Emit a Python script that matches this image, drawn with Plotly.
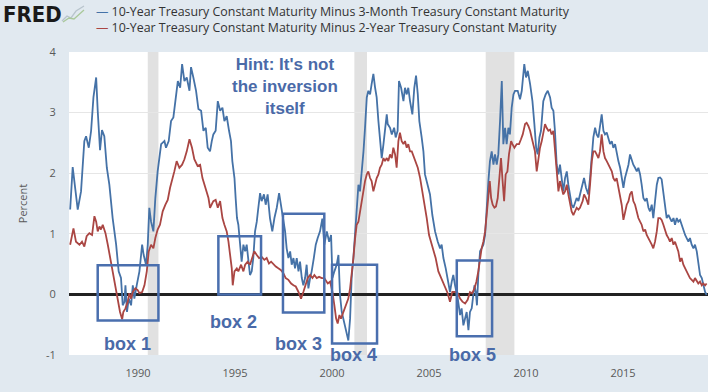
import plotly.graph_objects as go

# ---------------- data ----------------
years_10y3m = [
    1986.50, 1986.63, 1986.89, 1987.06, 1987.23, 1987.32, 1987.46, 1987.58, 1987.70, 1987.84,
    1987.92, 1988.04, 1988.14, 1988.26, 1988.39, 1988.52, 1988.69, 1988.87, 1989.00, 1989.12,
    1989.21, 1989.30, 1989.35, 1989.43, 1989.52, 1989.64, 1989.73, 1989.81, 1989.93, 1990.07,
    1990.21, 1990.29, 1990.41, 1990.50, 1990.58, 1990.67, 1990.79, 1990.89, 1991.01, 1991.19,
    1991.36, 1991.44, 1991.58, 1991.70, 1991.82, 1991.93, 1992.05, 1992.17, 1992.27, 1992.39,
    1992.51, 1992.65, 1992.73, 1992.85, 1992.99, 1993.11, 1993.25, 1993.37, 1993.49, 1993.59,
    1993.71, 1993.80, 1993.88, 1994.00, 1994.11, 1994.23, 1994.35, 1994.45, 1994.57, 1994.69,
    1994.79, 1994.86, 1994.97, 1995.03, 1995.10, 1995.17, 1995.26, 1995.34, 1995.43, 1995.52,
    1995.60, 1995.69, 1995.77, 1995.86, 1995.94, 1996.03, 1996.12, 1996.20, 1996.29, 1996.37,
    1996.49, 1996.58, 1996.68, 1996.80, 1996.92, 1997.03, 1997.15, 1997.27, 1997.37, 1997.49,
    1997.58, 1997.66, 1997.75, 1997.84, 1997.92, 1998.01, 1998.09, 1998.18, 1998.27, 1998.35,
    1998.44, 1998.52, 1998.61, 1998.69, 1998.78, 1998.87, 1998.95, 1999.06, 1999.16, 1999.26,
    1999.38, 1999.50, 1999.60, 1999.73, 1999.85, 1999.95, 2000.02, 2000.12, 2000.24, 2000.33,
    2000.41, 2000.50, 2000.58, 2000.67, 2000.76, 2000.84, 2000.93, 2001.01, 2001.10, 2001.19,
    2001.27, 2001.36, 2001.44, 2001.53, 2001.62, 2001.70, 2001.79, 2001.87, 2001.96, 2002.04,
    2002.13, 2002.22, 2002.30, 2002.39, 2002.47, 2002.56, 2002.65, 2002.73, 2002.82, 2002.87,
    2002.99, 2003.08, 2003.20, 2003.28, 2003.38, 2003.45, 2003.56, 2003.68, 2003.76, 2003.85,
    2003.93, 2004.02, 2004.14, 2004.24, 2004.33, 2004.42, 2004.50, 2004.62, 2004.71, 2004.79,
    2004.93, 2005.05, 2005.17, 2005.31, 2005.45, 2005.57, 2005.65, 2005.74, 2005.86, 2005.96,
    2006.08, 2006.17, 2006.25, 2006.34, 2006.48, 2006.60, 2006.68, 2006.77, 2006.86, 2006.94,
    2007.03, 2007.11, 2007.20, 2007.29, 2007.34, 2007.41, 2007.47, 2007.54, 2007.63, 2007.71,
    2007.80, 2007.89, 2007.97, 2008.06, 2008.14, 2008.23, 2008.32, 2008.40, 2008.49, 2008.57,
    2008.66, 2008.75, 2008.83, 2008.92, 2009.00, 2009.09, 2009.17, 2009.26, 2009.35, 2009.43,
    2009.57, 2009.69, 2009.78, 2009.86, 2009.91, 2010.00, 2010.09, 2010.21, 2010.33, 2010.43,
    2010.52, 2010.60, 2010.69, 2010.77, 2010.89, 2011.01, 2011.12, 2011.24, 2011.32, 2011.41,
    2011.49, 2011.58, 2011.67, 2011.75, 2011.84, 2011.92, 2012.01, 2012.10, 2012.18, 2012.27,
    2012.35, 2012.44, 2012.53, 2012.61, 2012.70, 2012.78, 2012.92, 2012.99, 2013.09, 2013.21,
    2013.30, 2013.39, 2013.47, 2013.56, 2013.64, 2013.73, 2013.81, 2013.90, 2013.99, 2014.07,
    2014.16, 2014.24, 2014.33, 2014.42, 2014.50, 2014.59, 2014.67, 2014.76, 2014.85, 2014.93,
    2015.02, 2015.10, 2015.19, 2015.28, 2015.36, 2015.45, 2015.53, 2015.62, 2015.71, 2015.79,
    2015.88, 2015.96, 2016.05, 2016.14, 2016.22, 2016.31, 2016.39, 2016.48, 2016.56, 2016.65,
    2016.74, 2016.82, 2016.91, 2016.99, 2017.08, 2017.17, 2017.25, 2017.34, 2017.42, 2017.51,
    2017.60, 2017.68, 2017.77, 2017.85, 2017.94, 2018.02, 2018.11, 2018.20, 2018.28, 2018.37,
    2018.45, 2018.54, 2018.63, 2018.71, 2018.80, 2018.88, 2018.97, 2019.06, 2019.14, 2019.23,
    2019.31,
]
spread_10y3m = [
    1.40, 2.10, 1.40, 1.70, 2.53, 2.61, 2.42, 2.70, 3.25, 3.58,
    3.03, 2.38, 2.71, 2.61, 2.09, 1.81, 1.26, 0.82, 0.38, 0.27,
    -0.18, -0.12, 0.15, -0.29, -0.07, -0.18, 0.15, -0.07, 0.15, 0.38,
    0.82, 0.65, 0.49, 0.82, 1.43, 1.20, 1.04, 1.59, 2.03, 2.48,
    2.53, 2.42, 2.53, 2.86, 2.92, 3.25, 3.52, 3.41, 3.80, 3.52,
    3.58, 3.36, 3.75, 3.58, 3.36, 3.06, 3.03, 2.70, 2.75, 2.42,
    2.36, 2.53, 2.64, 2.70, 3.19, 3.03, 3.08, 2.86, 2.94, 2.70,
    2.53, 2.20, 1.92, 1.59, 1.26, 1.15, 0.82, 0.54, 0.82, 0.71,
    0.82, 0.49, 0.32, 0.38, 0.60, 1.04, 1.20, 1.43, 1.67, 1.54,
    1.65, 1.48, 1.65, 1.26, 1.04, 1.26, 1.43, 1.67, 1.48, 1.26,
    1.04, 0.76, 0.60, 0.71, 0.49, 0.60, 0.43, 0.60, 0.38, 0.54,
    0.27, 0.15, 0.27, 0.49, 0.10, 0.27, 0.38, 0.60, 0.82, 0.93,
    1.04, 1.25, 0.82, 1.04, 0.87, 0.98, 0.27, 0.38, 0.49, 0.65,
    -0.01, -0.29, -0.40, -0.56, -0.67, -0.76, -0.40, 0.27, 0.60, 1.04,
    1.54, 1.81, 1.70, 1.98, 2.36, 2.75, 3.25, 3.36, 3.30, 3.47,
    3.64, 3.41, 3.25, 2.86, 2.53, 2.25, 2.48, 2.70, 2.97, 2.81,
    2.75, 2.64, 2.75, 2.59, 2.70, 3.52, 3.41, 3.19, 3.41, 3.30,
    3.41, 3.19, 2.97, 3.41, 3.61, 3.30, 2.86, 2.59, 2.36, 1.98,
    1.81, 1.65, 1.31, 1.04, 0.87, 0.76, 0.82, 0.60, 0.43, 0.27,
    0.04, 0.21, 0.32, 0.15, -0.07, -0.34, -0.23, -0.51, -0.40, -0.29,
    -0.59, -0.29, -0.23, -0.01, 0.15, 0.04, -0.18, 0.32, 0.71, 0.76,
    0.82, 0.98, 1.48, 1.87, 2.20, 2.36, 2.14, 2.31, 2.14, 2.31,
    2.86, 3.52, 2.48, 2.75, 2.48, 2.75, 2.64, 3.08, 3.30, 3.36,
    3.36, 3.22, 3.36, 3.64, 3.80, 3.58, 3.69, 3.47, 3.19, 2.81,
    2.42, 2.31, 2.59, 2.70, 3.19, 3.30, 3.36, 3.25, 3.08, 3.03,
    2.70, 2.14, 1.98, 2.14, 1.92, 1.70, 1.92, 2.03, 1.81, 1.59,
    1.48, 1.43, 1.54, 1.59, 1.54, 1.65, 1.81, 1.92, 1.76, 1.65,
    1.92, 2.36, 2.59, 2.75, 2.64, 2.59, 2.75, 2.97, 2.70, 2.64,
    2.67, 2.59, 2.48, 2.53, 2.42, 2.48, 2.31, 2.20, 2.09, 1.92,
    1.76, 1.92, 2.03, 2.14, 2.31, 2.20, 2.14, 2.09, 2.03, 2.09,
    1.98, 1.81, 1.59, 1.54, 1.59, 1.43, 1.37, 1.48, 1.26, 1.54,
    1.81, 1.92, 1.93, 1.90, 1.70, 1.48, 1.26, 1.31, 1.26, 1.20,
    1.26, 1.15, 1.26, 1.20, 1.23, 1.15, 1.04, 0.98, 0.93, 0.87,
    0.93, 0.82, 0.76, 0.82, 0.71, 0.49, 0.32, 0.27, 0.15, 0.04,
    -0.01,
]

years_10y2y = [
    1986.50, 1986.67, 1986.80, 1986.98, 1987.11, 1987.23, 1987.35, 1987.49, 1987.63, 1987.75,
    1987.84, 1987.92, 1988.01, 1988.09, 1988.18, 1988.32, 1988.44, 1988.56, 1988.69, 1988.83,
    1988.95, 1989.07, 1989.18, 1989.24, 1989.35, 1989.47, 1989.55, 1989.64, 1989.73, 1989.86,
    1989.98, 1990.07, 1990.21, 1990.33, 1990.45, 1990.55, 1990.67, 1990.79, 1990.89, 1991.01,
    1991.13, 1991.27, 1991.41, 1991.53, 1991.65, 1991.79, 1991.87, 1991.99, 1992.13, 1992.27,
    1992.39, 1992.51, 1992.65, 1992.78, 1992.90, 1993.07, 1993.20, 1993.32, 1993.42, 1993.54,
    1993.63, 1993.71, 1993.80, 1993.88, 1994.00, 1994.11, 1994.23, 1994.35, 1994.45, 1994.57,
    1994.66, 1994.74, 1994.83, 1994.88, 1994.97, 1995.09, 1995.17, 1995.31, 1995.43, 1995.52,
    1995.65, 1995.77, 1995.89, 1995.99, 1996.12, 1996.24, 1996.37, 1996.51, 1996.63, 1996.75,
    1996.86, 1996.98, 1997.10, 1997.23, 1997.37, 1997.49, 1997.61, 1997.75, 1997.89, 1998.01,
    1998.13, 1998.27, 1998.40, 1998.52, 1998.64, 1998.75, 1998.87, 1998.99, 1999.09, 1999.21,
    1999.33, 1999.47, 1999.60, 1999.78, 1999.90, 2000.02, 2000.12, 2000.21, 2000.29, 2000.38,
    2000.46, 2000.58, 2000.67, 2000.76, 2000.84, 2000.93, 2001.01, 2001.10, 2001.19, 2001.27,
    2001.36, 2001.44, 2001.53, 2001.62, 2001.70, 2001.79, 2001.87, 2001.96, 2002.04, 2002.13,
    2002.22, 2002.30, 2002.39, 2002.47, 2002.56, 2002.65, 2002.73, 2002.82, 2002.90, 2002.99,
    2003.08, 2003.16, 2003.25, 2003.33, 2003.42, 2003.50, 2003.59, 2003.68, 2003.76, 2003.85,
    2003.93, 2004.02, 2004.11, 2004.19, 2004.28, 2004.42, 2004.54, 2004.66, 2004.76, 2004.88,
    2005.00, 2005.10, 2005.22, 2005.34, 2005.48, 2005.62, 2005.74, 2005.86, 2005.96, 2006.08,
    2006.20, 2006.34, 2006.48, 2006.60, 2006.72, 2006.86, 2006.99, 2007.11, 2007.23, 2007.34,
    2007.44, 2007.54, 2007.63, 2007.71, 2007.80, 2007.89, 2007.97, 2008.06, 2008.13, 2008.20,
    2008.28, 2008.37, 2008.45, 2008.54, 2008.61, 2008.71, 2008.78, 2008.87, 2008.95, 2009.04,
    2009.12, 2009.23, 2009.30, 2009.40, 2009.52, 2009.64, 2009.74, 2009.83, 2009.95, 2010.03,
    2010.12, 2010.21, 2010.29, 2010.38, 2010.46, 2010.55, 2010.64, 2010.72, 2010.81, 2010.89,
    2010.98, 2011.06, 2011.15, 2011.24, 2011.32, 2011.41, 2011.49, 2011.58, 2011.67, 2011.75,
    2011.84, 2011.92, 2012.01, 2012.10, 2012.18, 2012.27, 2012.35, 2012.44, 2012.53, 2012.61,
    2012.70, 2012.78, 2012.92, 2012.99, 2013.09, 2013.21, 2013.30, 2013.39, 2013.47, 2013.56,
    2013.64, 2013.73, 2013.81, 2013.90, 2013.99, 2014.07, 2014.16, 2014.24, 2014.33, 2014.42,
    2014.50, 2014.59, 2014.67, 2014.76, 2014.85, 2014.93, 2015.02, 2015.10, 2015.19, 2015.28,
    2015.36, 2015.45, 2015.53, 2015.62, 2015.71, 2015.79, 2015.88, 2015.96, 2016.05, 2016.14,
    2016.22, 2016.31, 2016.39, 2016.48, 2016.56, 2016.65, 2016.74, 2016.82, 2016.91, 2016.99,
    2017.08, 2017.17, 2017.25, 2017.34, 2017.42, 2017.51, 2017.60, 2017.68, 2017.77, 2017.85,
    2017.94, 2018.02, 2018.11, 2018.20, 2018.28, 2018.37, 2018.45, 2018.54, 2018.63, 2018.71,
    2018.80, 2018.88, 2018.97, 2019.06, 2019.14, 2019.23, 2019.31,
]
spread_10y2y = [
    0.82, 1.09, 0.87, 0.82, 0.87, 0.79, 0.96, 1.01, 0.98, 1.29,
    1.20, 1.04, 1.12, 1.07, 1.15, 1.01, 0.82, 0.60, 0.38, 0.15,
    -0.07, -0.29, -0.41, -0.29, -0.23, -0.12, 0.02, -0.07, 0.04, 0.10,
    0.07, 0.02, 0.04, 0.15, 0.38, 0.71, 0.82, 0.76, 0.93, 1.07,
    1.15, 1.37, 1.48, 1.56, 1.76, 1.92, 2.03, 2.20, 2.09, 2.14,
    2.23, 2.36, 2.56, 2.42, 2.23, 2.12, 2.14, 1.92, 1.81, 1.70,
    1.59, 1.43, 1.48, 1.54, 1.56, 1.43, 1.54, 1.26, 1.15, 1.04,
    0.87, 0.65, 0.43, 0.15, 0.38, 0.43, 0.38, 0.49, 0.38, 0.49,
    0.54, 0.49, 0.60, 0.71, 0.65, 0.60, 0.62, 0.57, 0.60, 0.51,
    0.54, 0.49, 0.46, 0.43, 0.40, 0.35, 0.27, 0.24, 0.18, 0.15,
    0.13, 0.04, -0.07, 0.04, 0.15, 0.27, 0.32, 0.27, 0.32, 0.27,
    0.29, 0.27, 0.27, 0.18, 0.21, 0.04, -0.18, -0.40, -0.48, -0.34,
    -0.40, -0.29, -0.23, -0.12, -0.07, 0.10, 0.32, 0.60, 0.93, 1.15,
    1.20, 1.37, 1.54, 1.70, 1.87, 1.98, 2.03, 1.92, 1.87, 1.70,
    1.81, 1.92, 1.98, 2.09, 2.14, 2.25, 2.20, 2.25, 2.20, 2.31,
    2.25, 2.42, 2.31, 2.09, 2.53, 2.67, 2.53, 2.48, 2.53, 2.42,
    2.48, 2.36, 2.36, 2.28, 2.23, 2.09, 1.92, 1.70, 1.48, 1.26,
    0.98, 0.87, 0.71, 0.60, 0.38, 0.27, 0.18, 0.10, 0.02, -0.12,
    0.04, 0.04, 0.02, -0.07, -0.12, -0.15, -0.09, 0.04, 0.02, 0.10,
    0.21, 0.38, 0.60, 0.76, 0.87, 1.04, 1.31, 1.70, 1.87, 1.59,
    1.48, 1.43, 1.45, 1.59, 1.92, 2.25, 1.92, 1.54, 1.98, 2.03,
    2.31, 2.53, 2.48, 2.42, 2.48, 2.48, 2.56, 2.64, 2.81, 2.83,
    2.78, 2.70, 2.59, 2.48, 2.36, 2.03, 2.25, 2.42, 2.53, 2.70,
    2.81, 2.75, 2.70, 2.72, 2.64, 2.70, 2.36, 1.98, 1.70, 1.87,
    1.76, 1.65, 1.70, 1.81, 1.65, 1.48, 1.37, 1.31, 1.37, 1.43,
    1.40, 1.43, 1.54, 1.65, 1.59, 1.48, 1.81, 2.20, 2.36, 2.36,
    2.31, 2.25, 2.36, 2.64, 2.36, 2.25, 2.20, 2.14, 2.09, 2.03,
    1.92, 1.87, 1.92, 1.76, 1.65, 1.48, 1.23, 1.37, 1.48, 1.54,
    1.65, 1.70, 1.54, 1.48, 1.37, 1.26, 1.20, 1.15, 1.04, 1.07,
    0.98, 0.93, 0.87, 0.82, 0.76, 0.87, 1.04, 1.26, 1.26, 1.23,
    1.15, 1.04, 0.98, 0.93, 0.87, 0.93, 0.82, 0.87, 0.76, 0.71,
    0.54, 0.60, 0.49, 0.43, 0.38, 0.32, 0.27, 0.24, 0.21, 0.27,
    0.21, 0.18, 0.21, 0.15, 0.18, 0.15, 0.18,
]

series_names = [
    "10-Year Treasury Constant Maturity Minus 3-Month Treasury Constant Maturity",
    "10-Year Treasury Constant Maturity Minus 2-Year Treasury Constant Maturity",
]

# recessions (start, end) in years
recession_start = [1990.50, 2001.15, 2007.92]
recession_end = [1991.05, 2001.80, 2009.40]

# annotation boxes (years / percent)
box_x0 = [1987.92, 1994.14, 1997.47, 2000.00, 2006.43]
box_x1 = [1991.05, 1996.34, 1999.60, 2002.32, 2008.25]
box_y0 = [-0.43, 0.00, -0.30, -0.81, -0.69]
box_y1 = [0.48, 0.96, 1.33, 0.49, 0.56]
box_labels = ["box 1", "box 2", "box 3", "box 4", "box 5"]
box_label_x = [1989.45, 1994.90, 1998.27, 2001.08, 2007.24]
box_label_y = [-0.82, -0.45, -0.82, -1.00, -1.00]

x_ticks = [1990, 1995, 2000, 2005, 2010, 2015]
y_ticks = [-1, 0, 1, 2, 3, 4]

# ---------------- styling ----------------
W, H = 708, 392
ML, MR, MT, MB = 69, 0, 52, 37
PW, PH = W - ML - MR, H - MT - MB
Y_MIN, Y_MAX = -1, 4
BLUE = "#4572a7"
RED = "#aa4643"
NOTE = "#4a6aa8"
BG = "#e1e9f0"


def px(x):
    return (x - ML) / PW


def py(y):
    return (H - MB - y) / PH


def yv(v):
    return (v - Y_MIN) / (Y_MAX - Y_MIN)


fig = go.Figure()
fig.add_trace(go.Scatter(x=years_10y3m, y=spread_10y3m, mode="lines", name=series_names[0],
                         line=dict(color=BLUE, width=1.8), showlegend=False))
fig.add_trace(go.Scatter(x=years_10y2y, y=spread_10y2y, mode="lines", name=series_names[1],
                         line=dict(color=RED, width=1.8), showlegend=False))

shapes = []
for s, e in zip(recession_start, recession_end):
    shapes.append(dict(type="rect", xref="x", yref="paper", x0=s, x1=e, y0=0, y1=1,
                       fillcolor="#e1e1e1", line=dict(width=0), layer="below"))
for x0, x1, y0, y1 in zip(box_x0, box_x1, box_y0, box_y1):
    shapes.append(dict(type="rect", xref="x", yref="y", x0=x0, x1=x1, y0=y0, y1=y1,
                       line=dict(color="#4a6fae", width=2.5), fillcolor="rgba(0,0,0,0)",
                       layer="above"))

# small FRED chart icon
icon_gray = "M {} {} L {} {} L {} {} L {} {} L {} {}".format(
    px(62), py(21), px(67), py(16), px(71), py(18), px(76), py(11), px(84), py(6))
icon_green = "M {} {} L {} {} L {} {} L {} {}".format(
    px(63), py(22), px(69), py(18), px(74), py(19), px(84), py(10))
shapes.append(dict(type="path", xref="paper", yref="paper", path=icon_gray,
                   line=dict(color="#b8c4cc", width=1.3)))
shapes.append(dict(type="path", xref="paper", yref="paper", path=icon_green,
                   line=dict(color="#a9c89a", width=1.3)))

annotations = [
    dict(text="<b>FRED</b>", x=px(1), y=py(14), xref="paper", yref="paper",
         xanchor="left", yanchor="middle", showarrow=False,
         font=dict(family="DejaVu Sans Condensed, DejaVu Sans", size=22, color="#1a1a1a")),
    dict(text=f"<span style='color:{BLUE}'>—</span> " + series_names[0],
         x=px(94), y=py(12), xref="paper", yref="paper", xanchor="left", yanchor="middle",
         showarrow=False, font=dict(family="Open Sans", size=12.4, color="#333333")),
    dict(text=f"<span style='color:{RED}'>—</span> " + series_names[1],
         x=px(94), y=py(28), xref="paper", yref="paper", xanchor="left", yanchor="middle",
         showarrow=False, font=dict(family="Open Sans", size=12.4, color="#333333")),
    dict(text="<b>Hint: It's not<br>the inversion<br>itself</b>", x=1997.58, y=3.43,
         xref="x", yref="y", showarrow=False, align="center", yanchor="middle",
         font=dict(family="Liberation Sans", size=17, color=NOTE)),
]
for lab, lx, ly in zip(box_labels, box_label_x, box_label_y):
    annotations.append(dict(text=f"<b>{lab}</b>", x=lx, y=yv(ly), xref="x", yref="paper",
                            showarrow=False, xanchor="center", yanchor="middle",
                            font=dict(family="Liberation Sans", size=18, color=NOTE)))

fig.update_layout(
    width=W, height=H,
    margin=dict(l=ML, r=MR, t=MT, b=MB, pad=0),
    paper_bgcolor=BG, plot_bgcolor="white",
    font=dict(family="Open Sans", size=11, color="#595959"),
    shapes=shapes, annotations=annotations, showlegend=False,
)
fig.update_xaxes(range=[1986.44, 2019.38], tickvals=x_ticks,
                 ticktext=[str(t) for t in x_ticks], showgrid=False, zeroline=False,
                 ticks="outside", ticklen=8, tickcolor="rgba(0,0,0,0)",
                 tickfont=dict(size=11, color="#595959"), showline=False, fixedrange=True)
fig.update_yaxes(range=[Y_MIN, Y_MAX], tickvals=y_ticks, ticktext=[str(t) for t in y_ticks],
                 showgrid=True, gridcolor="#e6e6e6", gridwidth=1,
                 zeroline=True, zerolinecolor="#222222", zerolinewidth=2.5,
                 ticks="outside", ticklen=10, tickcolor="rgba(0,0,0,0)",
                 tickfont=dict(size=11, color="#595959"), showline=False,
                 title=dict(text="Percent", standoff=16,
                            font=dict(size=11, color="#595959")),
                 fixedrange=True)

fig.write_html("out.html",
               config={"displayModeBar": False},
               post_script="document.body.style.margin='0px';"
                           "document.body.style.background='" + BG + "';")
